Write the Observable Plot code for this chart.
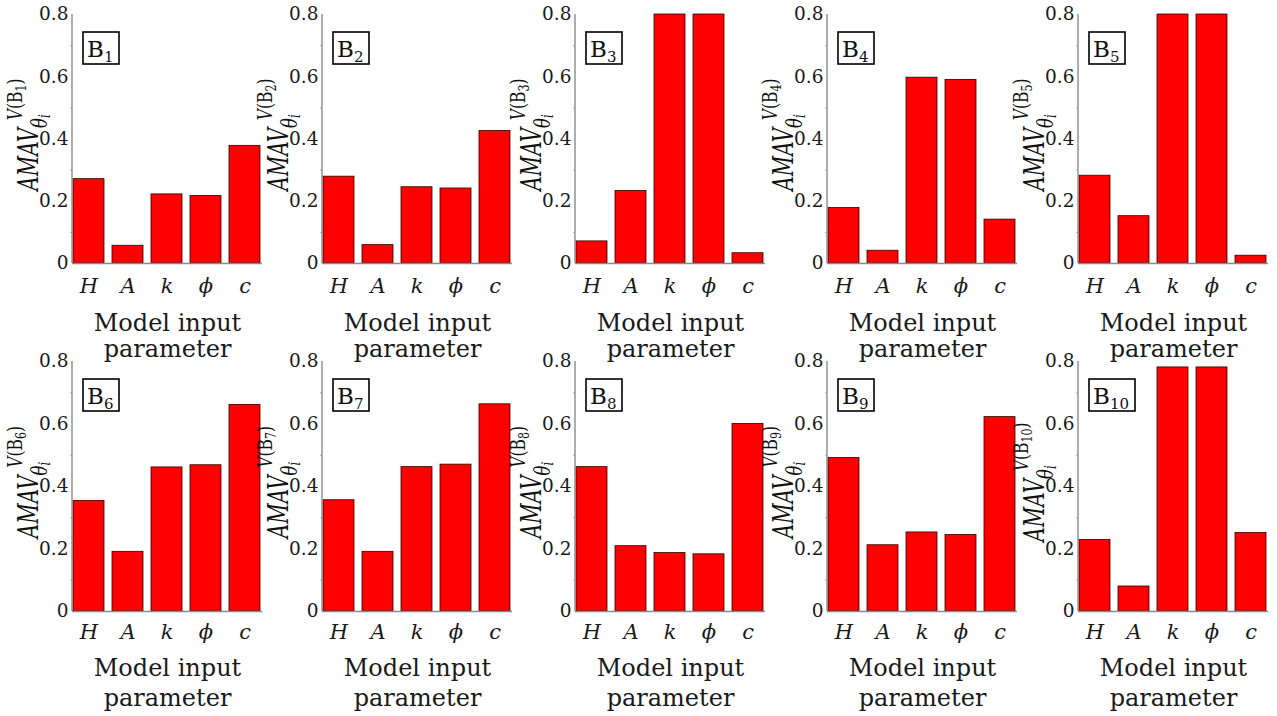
<!DOCTYPE html>
<html><head><meta charset="utf-8">
<script src="https://cdn.jsdelivr.net/npm/d3@7"></script>
<script src="https://cdn.jsdelivr.net/npm/@observablehq/plot@0.6"></script>
<style>
html,body{margin:0;padding:0;background:#fff;}
#root{position:relative;width:1277px;height:716px;overflow:hidden;}
.panel{position:absolute;}
.panel svg{overflow:visible;}
</style></head><body>
<div id="root"></div>
<script>
// ---- data ----
const params = ["H", "A", "k", "ϕ", "c"];
const panelIds = ["1","2","3","4","5","6","7","8","9","10"];
const valuesB1  = [0.271, 0.057, 0.222, 0.217, 0.378];
const valuesB2  = [0.279, 0.059, 0.245, 0.241, 0.426];
const valuesB3  = [0.071, 0.233, 0.800, 0.800, 0.033];
const valuesB4  = [0.178, 0.041, 0.597, 0.590, 0.141];
const valuesB5  = [0.282, 0.152, 0.800, 0.800, 0.025];
const valuesB6  = [0.354, 0.191, 0.461, 0.468, 0.661];
const valuesB7  = [0.356, 0.191, 0.462, 0.470, 0.663];
const valuesB8  = [0.462, 0.209, 0.187, 0.183, 0.600];
const valuesB9  = [0.491, 0.212, 0.253, 0.245, 0.622];
const valuesB10 = [0.229, 0.080, 0.781, 0.781, 0.251];
const yTicks = [0, 0.2, 0.4, 0.6, 0.8];
const yMinorTicks = [0.1, 0.3, 0.5, 0.7];
const xTitle = ["Model input", "parameter"];
const yTitleMain = "AMAV";

const allValues = [valuesB1, valuesB2, valuesB3, valuesB4, valuesB5,
                   valuesB6, valuesB7, valuesB8, valuesB9, valuesB10];

// ---- layout ----
const FONT = "DejaVu Serif";
const axisXs = [72, 322, 575, 827, 1078];
const rows = [
  {top: 0,   height: 360, mt: 14, mb: 97,  tickPad: 16, titleDy: 50, lh: 1.05},
  {top: 347, height: 369, mt: 14, mb: 105, tickPad: 14, titleDy: 43, lh: 1.25}
];
const ML = 72, PW = 190, MR = 4;

const root = document.getElementById("root");

panelIds.forEach((id, i) => {
  const row = rows[Math.floor(i / 5)];
  const col = i % 5;
  const data = params.map((p, j) => ({param: p, value: allValues[i][j]}));

  const chart = Plot.plot({
    width: ML + PW + MR,
    height: row.height,
    marginLeft: ML, marginRight: MR, marginTop: row.mt, marginBottom: row.mb,
    style: {background: "transparent", overflow: "visible", color: "#1a1a1a", fontFamily: FONT},
    x: {domain: params, paddingInner: 0.2, paddingOuter: 0, axis: null, label: null},
    y: {domain: [0, 0.8], axis: null, label: null},
    marks: [
      Plot.barY(data, {x: "param", y: "value", fill: "#ff0000", stroke: "#2a0000", strokeWidth: 0.8}),
      Plot.ruleY([0], {stroke: "#8a8a8a", strokeWidth: 1.4}),
      Plot.axisY(yMinorTicks, {tickSize: 2, tickFormat: () => "", stroke: "#b0b0b0"}),
      Plot.axisY(yTicks, {tickSize: 0, tickPadding: 4, tickFormat: d => String(d), fontSize: 18.5, fill: "#1a1a1a", fontFamily: FONT}),
      Plot.axisX({tickSize: 0, tickPadding: row.tickPad - 1, fontSize: 21, fontStyle: "italic", fill: "#1a1a1a", fontFamily: FONT}),
      Plot.text([xTitle.join("\n")], {frameAnchor: "bottom", lineAnchor: "top", dy: row.titleDy,
        fontSize: 24, lineHeight: row.lh, fill: "#1a1a1a", fontFamily: FONT})
    ]
  });

  const div = document.createElement("div");
  div.className = "panel";
  div.style.left = (axisXs[col] - ML) + "px";
  div.style.top = row.top + "px";
  div.appendChild(chart);
  root.appendChild(div);

  const svg = d3.select(chart);
  svg.attr("font-family", FONT);
  const plotTop = row.mt, plotBottom = row.height - row.mb;

  // y axis line
  svg.append("line")
    .attr("x1", ML).attr("x2", ML).attr("y1", plotTop).attr("y2", plotBottom)
    .attr("stroke", "#8a8a8a").attr("stroke-width", 1.4);

  // panel label box B_n
  const g = svg.append("g").attr("transform", `translate(${ML + 11},${plotTop + 18})`);
  const boxW = 36 + 10 * (id.length - 1);
  g.append("rect").attr("width", boxW).attr("height", 32)
    .attr("fill", "#fff").attr("stroke", "#000").attr("stroke-width", 1.6);
  const bt = g.append("text").attr("x", 4).attr("y", 25).attr("text-anchor", "start")
    .attr("font-family", FONT).attr("font-size", 23).attr("fill", "#111");
  bt.append("tspan").text("B");
  bt.append("tspan").attr("font-size", 15).attr("dy", 5).text(id);

  // y axis title: AMAV_{θ_i}^{V(B_n)}
  const cy = (plotTop + plotBottom) / 2 - 4;
  const yt = svg.append("text")
    .attr("text-anchor", "middle")
    .attr("font-family", FONT)
    .attr("transform", `translate(${ML - 34},${cy}) rotate(-90) scale(0.74,1)`)
    .attr("font-size", 27).attr("fill", "#111");
  yt.append("tspan").attr("font-style", "italic").text(yTitleMain);
  yt.append("tspan").attr("font-style", "italic").attr("font-size", 22).attr("dy", 9).text("θ");
  yt.append("tspan").attr("font-style", "italic").attr("font-size", 16).attr("dy", 3).text("i");
  yt.append("tspan").attr("font-style", "italic").attr("font-size", 21).attr("dx", -8).attr("dy", -28).text("V");
  yt.append("tspan").attr("font-size", 21).text("(B");
  yt.append("tspan").attr("font-size", 15).attr("dy", 4).text(id);
  yt.append("tspan").attr("font-size", 21).attr("dy", -4).text(")");
});
</script>
</body></html>
